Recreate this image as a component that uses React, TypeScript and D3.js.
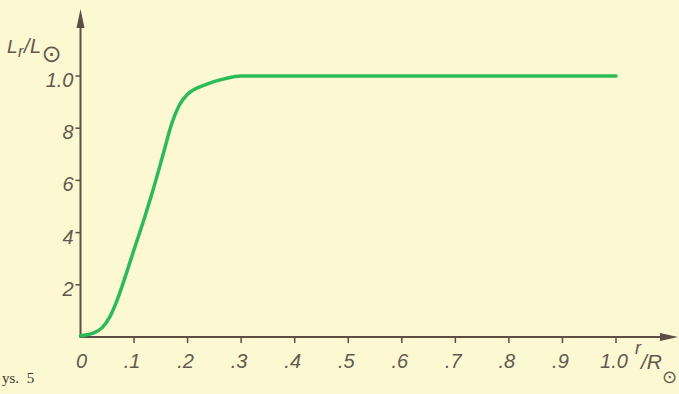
import React from 'react';
import * as d3 from 'd3';

// luminosity fraction vs. radius fraction
const radius = [0, 0.01, 0.025, 0.04, 0.055, 0.07, 0.085, 0.1, 0.12, 0.135, 0.155, 0.17, 0.185, 0.2, 0.235, 0.27, 0.3, 0.5, 0.75, 1.0];
const lum = [0.005, 0.008, 0.016, 0.035, 0.078, 0.15, 0.24, 0.335, 0.46, 0.56, 0.705, 0.815, 0.89, 0.93, 0.968, 0.99, 1.0, 1.0, 1.0, 1.0];

const xTicks = [0, 0.1, 0.2, 0.3, 0.4, 0.5, 0.6, 0.7, 0.8, 0.9, 1.0];
const xTickLabels = ['0', '.1', '.2', '.3', '.4', '.5', '.6', '.7', '.8', '.9', '1.0'];
const yTicks = [0.2, 0.4, 0.6, 0.8, 1.0];
const yTickLabels = ['2', '4', '6', '8', '1.0'];

const W = 679, H = 394;
const ink = '#5c4e45';
const labelInk = '#635850';
const font = '"Liberation Sans", Arimo, sans-serif';
const symFont = '"DejaVu Sans", sans-serif';

export default function App() {
  const x = d3.scaleLinear().domain([0, 1]).range([80.5, 616]);
  const y = d3.scaleLinear().domain([0, 1]).range([337, 76]);
  const x0 = x(0), y0 = y(0);

  const line = d3.line<number>()
    .x((_, i) => x(radius[i]))
    .y((d) => y(d))
    .curve(d3.curveMonotoneX);

  return (
    <svg width={W} height={H} style={{ position: 'absolute', left: 0, top: 0, display: 'block' }}>
      <rect width={W} height={H} fill="#fcf8d2" />

      {/* axes */}
      <line x1={x0} y1={y0} x2={668} y2={y0} stroke={ink} strokeWidth={2} />
      <line x1={x0} y1={y0 + 1} x2={x0} y2={20} stroke={ink} strokeWidth={2} />
      <path d={`M${x0},9 L${x0 - 4},28 L${x0 + 4},28 Z`} fill={ink} />
      <path d={`M678,${y0} L660,${y0 - 4} L660,${y0 + 4} Z`} fill={ink} />

      {/* y ticks */}
      {yTicks.map((t, i) => (
        <g key={`y${i}`}>
          <line x1={x0 - 5} x2={x0} y1={y(t)} y2={y(t)} stroke={ink} strokeWidth={1.5} />
          <text x={x0 - 7} y={y(t) + 11} textAnchor="end" fontFamily={font} fontStyle="italic"
            fontSize={20} fill={labelInk}>{yTickLabels[i]}</text>
        </g>
      ))}

      {/* x ticks */}
      {xTicks.map((t, i) => (
        <g key={`x${i}`}>
          {t > 0 && <line x1={x(t)} x2={x(t)} y1={y0} y2={y0 + 6} stroke={ink} strokeWidth={1.5} />}
          <text x={x(t) + (t === 0 ? 1 : -2)} y={368} textAnchor="middle" fontFamily={font} fontStyle="italic"
            fontSize={20} fill={labelInk}>{xTickLabels[i]}</text>
        </g>
      ))}

      {/* curve */}
      <path d={line(lum) || ''} fill="none" stroke="#2bbb5b" strokeWidth={3.5}
        strokeLinecap="round" strokeLinejoin="round" />

      {/* y axis title */}
      <text x={7} y={53} fontFamily={font} fontStyle="italic" fontSize={19} fill={labelInk} letterSpacing={0.5}>
        L<tspan fontSize={16} dy={4}>r</tspan><tspan dy={-4} fontSize={20}>/L</tspan><tspan fontFamily={symFont} fontStyle="normal" fontSize={24} dy={9} letterSpacing={0}>⊙</tspan>
      </text>

      {/* x axis title */}
      <text x={635} y={354} fontFamily={font} fontStyle="italic" fontSize={18} fill={labelInk}>
        r<tspan fontSize={21} dy={15}>/R</tspan><tspan fontFamily={symFont} fontStyle="normal" fontSize={18} dy={14}>⊙</tspan>
      </text>

      {/* figure caption fragment */}
      <text x={2} y={383} fontFamily='"Liberation Serif", serif' fontSize={15} wordSpacing={4} fill="#3a3530">ys. 5</text>
    </svg>
  );
}
